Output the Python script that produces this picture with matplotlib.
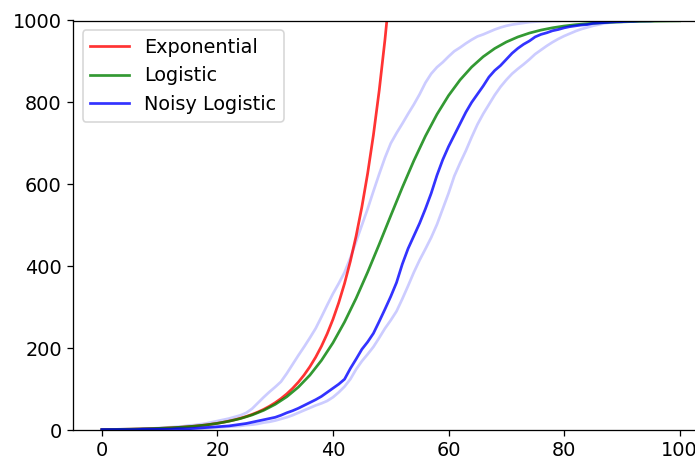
import numpy as np
import matplotlib
matplotlib.use("Agg")
import matplotlib.pyplot as plt

# === values ===
x_exp = np.arange(0, 51)
exponential = [1.0, 1.15, 1.32, 1.52, 1.75, 2.01, 2.32, 2.66, 3.06, 3.53,
               4.06, 4.66, 5.37, 6.17, 7.10, 8.17, 9.39, 10.8, 12.4, 14.3,
               16.4, 18.9, 21.8, 25.0, 28.8, 33.1, 38.1, 43.8, 50.4, 58.0,
               66.7, 76.7, 88.2, 101.5, 116.7, 134.3, 154.5, 177.7, 204.4, 235.1,
               270.4, 311.1, 357.8, 411.6, 473.4, 544.6, 626.4, 720.5, 828.8, 953.4,
               1096.6]

x_log = np.arange(0, 101, 2)
logistic = [1.0, 1.32, 1.75, 2.32, 3.05, 4.05, 5.34, 7.04, 9.30, 12.25,
            16.2, 21.4, 28.0, 36.7, 48.0, 62.6, 81.1, 104.6, 133.9, 169.9,
            213.0, 263.7, 321.5, 385.4, 453.4, 523.3, 592.2, 657.7, 717.7, 770.9,
            816.6, 854.9, 886.3, 911.6, 931.7, 947.5, 959.8, 969.3, 976.6, 982.2,
            986.5, 989.8, 992.3, 994.1, 995.6, 996.6, 997.5, 998.1, 998.5, 998.9,
            999.2]

x_noisy = np.arange(0, 101)
noisy = [1, 1, 1, 1, 1, 1, 1, 2, 2, 2, 2, 2, 2, 3, 3, 3, 4, 5, 6, 7,
         8, 9, 10, 12, 14, 16, 19, 22, 25, 28, 31, 36, 42, 47, 53, 60, 67, 74, 82, 92,
         102, 112, 124, 150, 173, 197, 215, 236, 265, 295, 326, 360, 405, 443, 474, 505,
         540, 578, 622, 660, 692, 720, 748, 776, 800, 820, 840, 862, 878, 890, 905,
         920, 932, 942, 950, 960, 966, 970, 975, 978, 982, 985, 987, 989, 990, 993,
         994, 995, 996, 997, 997, 998, 998, 999, 999, 999, 1000, 1000, 1000, 1000, 1000]

noisy_upper = [1, 1, 1, 2, 2, 2, 3, 3, 4, 4, 5, 6, 7, 8, 9, 11, 12, 14, 16, 19,
               22, 25, 28, 32, 36, 42, 52, 66, 80, 93, 105, 118, 138, 160, 182, 203,
               225, 248, 276, 305, 333, 358, 385, 420, 460, 500, 540, 583, 625, 665,
               700, 725, 748, 772, 795, 820, 848, 870, 886, 898, 912, 925, 934, 944,
               953, 961, 966, 972, 978, 983, 987, 990, 992, 994, 996, 997, 998, 998,
               999, 999, 1000, 1000, 1000, 1000, 1000, 1000, 1000, 1000, 1000, 1000,
               1000, 1000, 1000, 1000, 1000, 1000, 1000, 1000, 1000, 1000, 1000]

noisy_lower = [0, 0, 0, 1, 1, 1, 1, 1, 1, 1, 1, 2, 2, 2, 2, 2, 3, 3, 4, 5,
               6, 7, 8, 9, 10, 12, 13, 15, 18, 20, 23, 27, 31, 36, 42, 48, 54, 60,
               65, 71, 80, 92, 106, 124, 148, 168, 185, 203, 225, 248, 268, 290, 320,
               352, 385, 415, 442, 470, 502, 540, 578, 620, 652, 682, 715, 746, 772,
               795, 818, 838, 855, 870, 882, 893, 905, 918, 928, 938, 947, 955, 962,
               968, 974, 979, 983, 987, 990, 993, 995, 996, 997, 998, 998, 999, 999,
               1000, 1000, 1000, 1000, 1000, 1000]

# === figure: notebook image scaled up ===
dpi = 115.2
plt.rcParams['font.size'] = 12
fig = plt.figure(figsize=(695 / dpi, 459 / dpi), dpi=dpi)
ax = fig.add_axes([73 / 695, 29 / 459, 635.5 / 695, 409.5 / 459])

lw = 1.7
ax.plot(x_noisy, noisy_upper, color='b', alpha=0.2, lw=lw)
ax.plot(x_noisy, noisy_lower, color='b', alpha=0.2, lw=lw)
ax.plot(x_exp, exponential, color='r', alpha=0.8, lw=lw, label='Exponential')
ax.plot(x_log, logistic, color='g', alpha=0.8, lw=lw, label='Logistic')
ax.plot(x_noisy, noisy, color='b', alpha=0.8, lw=lw, label='Noisy Logistic')

ax.set_xlim(-5, 105)
ax.set_ylim(0, 1000)
ax.legend(loc='upper left')

fig.savefig("out.png", dpi=dpi)
